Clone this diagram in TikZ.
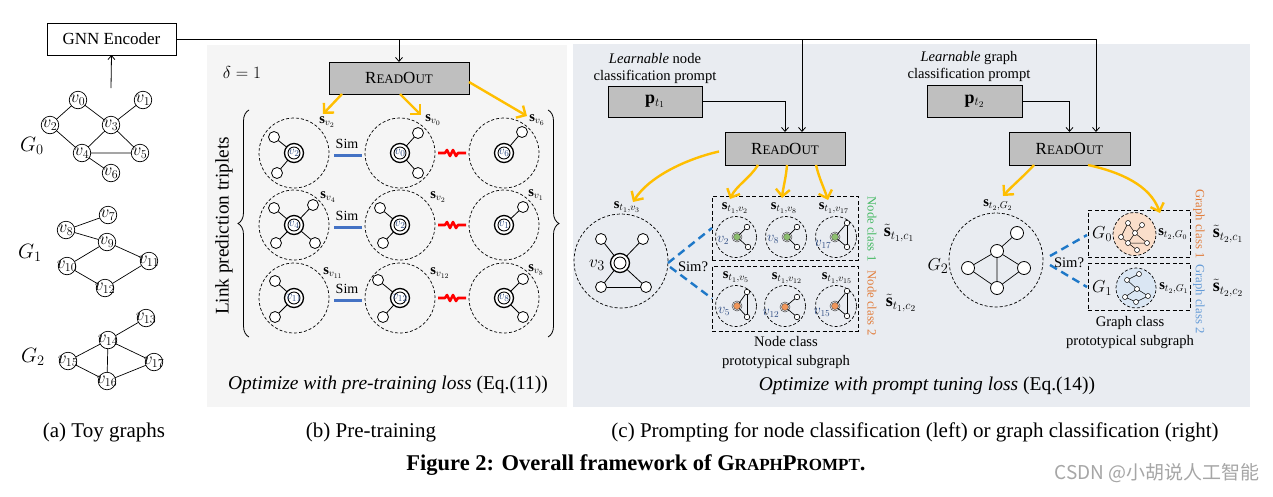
\documentclass[tikz,border=0pt]{standalone}
\usepackage{fontspec}
\setmainfont{Liberation Serif}
\newfontfamily\cjkf{Noto Sans CJK SC}
\usetikzlibrary{arrows.meta,calc,decorations.pathreplacing}
\definecolor{orng}{RGB}{255,190,0}
\definecolor{simblue}{RGB}{68,114,196}
\definecolor{dblue}{RGB}{30,120,200}
\definecolor{vlab}{RGB}{45,75,130}
\definecolor{panelb}{RGB}{245,245,245}
\definecolor{panelc}{RGB}{233,236,241}
\definecolor{boxgray}{RGB}{191,191,191}
\definecolor{gfill}{RGB}{140,190,110}
\definecolor{ofill}{RGB}{240,150,90}
\definecolor{gtxt}{RGB}{70,185,100}
\definecolor{otxt}{RGB}{225,125,60}
\definecolor{btxt}{RGB}{100,155,215}
\definecolor{peach}{RGB}{250,222,202}
\definecolor{lblue}{RGB}{218,230,243}
\newcommand\myfs[1]{\fontsize{#1}{#1}\selectfont}
\newcommand\myRO{R{\myfs{13}EAD}O{\myfs{13}UT}}
\begin{document}
\begin{tikzpicture}[x=1pt,y=-1pt,
 every node/.style={inner sep=0pt,outer sep=0pt},
 tn/.style={circle,draw,line width=0.7pt,minimum size=17.5pt,fill=white},
 tvl/.style={font=\myfs{17}},
 edge/.style={line width=0.7pt},
 rbox/.style={draw,fill=boxgray,line width=0.9pt,font=\myfs{17}},
 bigdash/.style={circle,draw,line width=0.7pt,dash pattern=on 3pt off 2pt,minimum size=70pt},
 ctr/.style={circle,draw,line width=1.3pt,minimum size=19pt,fill=white},
 sat/.style={circle,draw,line width=0.8pt,minimum size=11pt,fill=white},
 slbl/.style={font=\myfs{14.5}},
 vl/.style={font=\myfs{13},text=vlab},
 vl2/.style={font=\myfs{13.5},text=vlab},
 oarr/.style={draw=orng,line width=2.4pt,-{Straight Barb[length=7pt,width=14pt]}},
 karr/.style={line width=0.8pt,-{Straight Barb[length=4pt,width=7pt]}},
 simln/.style={draw=simblue,line width=3pt},
 redz/.style={draw=red,line width=2.6pt},
 simd/.style={draw=dblue,line width=2.4pt,dash pattern=on 8pt off 5pt},
 smdash/.style={circle,draw,line width=0.7pt,dash pattern=on 3pt off 2pt,minimum size=41pt},
 cn/.style={circle,draw=black!70,line width=0.4pt,minimum size=7pt},
 ss/.style={circle,draw,line width=0.6pt,minimum size=5.5pt,fill=white},
 edge3/.style={line width=0.7pt},
 dbox/.style={draw,line width=0.8pt,dash pattern=on 4pt off 2.5pt},
 gn/.style={circle,draw,line width=0.8pt,minimum size=13pt,fill=white},
 mn/.style={circle,draw,line width=0.5pt,minimum size=5pt,fill=white},
 medge/.style={line width=0.5pt},
 captxt/.style={font=\myfs{21}},
 opttxt/.style={font=\myfs{19.5}},
 txt/.style={font=\myfs{14.6}},
 rtxt/.style={font=\myfs{12.7}}
]
\useasboundingbox (0,0) rectangle (1273,496);
\fill[white] (0,0) rectangle (1273,496);
% panels
\fill[panelb] (207,45) rectangle (567,407);
\fill[panelc] (573,44) rectangle (1250,407);

% ===== (a) toy graphs
\node[draw,line width=0.8pt,minimum width=129pt,minimum height=32pt,font=\myfs{17},fill=white] (gnn) at (111.5,39) {GNN Encoder};
\coordinate (g0top) at (111,88);
\draw[karr] (g0top) -- (gnn.south);
\foreach \n/\x/\y/\l in {v0/78/100/v_0, v1/143/100/v_1, v2/50/125/v_2, v3/111/125/v_3, v4/82/153/v_4, v5/140/153/v_5, v6/111/173/v_6,
  v7/108/215/v_7, v8/66/230/v_8, v9/107/242/v_9, v10/67/266/v_{10}, v11/149/261/v_{11}, v12/105/288/v_{12},
  v13/146/318/v_{13}, v14/108/340/v_{14}, v15/68/361/v_{15}, v16/107/381/v_{16}, v17/154/362/v_{17}}{
  \node[tn] (\n) at (\x,\y) {};
  \node[tvl] (l\n) at (\x,\y) {$\l$};
}
\draw[edge] (v0)--(v2) (v0)--(v3) (v3)--(v1) (v3)--(v4) (v3)--(v5) (v2)--(v4) (v4)--(v5) (v4)--(v6);
\draw[edge] (v8)--(v7) (v8)--(v9) (v9)--(v10) (v9)--(v11) (v10)--(v12) (v11)--(v12);
\draw[edge] (v14)--(v13) (v14)--(v15) (v14)--(v16) (v14)--(v17) (v15)--(v16) (v16)--(v17);
\node[font=\myfs{20}] (G0) at (32,146) {$G_0$};
\node[font=\myfs{20}] (G1) at (30,253) {$G_1$};
\node[font=\myfs{20}] (G2) at (33,357) {$G_2$};

% ===== connections from encoder
\coordinate (j1) at (399,39);
\coordinate (j2) at (802,39);
\coordinate (j3) at (1096,39);
\draw[line width=0.8pt] (gnn.east) -- (j3);

% ===== (b) pre-training
\node[font=\myfs{19}] (delta) at (242,72) {$\delta=1$};
\node[rbox,minimum width=140pt,minimum height=32pt] (ro1) at (399,78) {\myRO};
\draw[karr] (j1) -- (ro1.north);
\node[font=\myfs{19.3},rotate=90] (lpt) at (224,226) {Link prediction triplets};
\draw[line width=0.8pt,decorate,decoration={brace,amplitude=11pt}] (249,337) -- (249,110);
\draw[line width=0.8pt,decorate,decoration={brace,amplitude=11pt}] (548,110) -- (548,337);

\foreach \n/\x/\y in {a/294/153, b/400/153, c/504/153, d/294/225, e/400/225, f/504/225, g/294/298, h/400/298, i/504/298}{
  \node[bigdash] (C\n) at (\x,\y) {};
  \node[ctr] (T\n) at (\x,\y) {};
  \draw[line width=0.9pt] (T\n) circle[radius=6pt];
}
\foreach \n/\l in {a/v_2, b/v_0, c/v_6, d/v_4, e/v_2, f/v_1, g/v_{11}, h/v_{12}, i/v_8}{
  \node[vl] (V\n) at (T\n) {$\l$};
}
\foreach \n/\dx/\dy [count=\k] in {a/-20/-16, a/-17/20, b/18/-20, b/18/20, c/18/-21, d/-20/-17, d/19/-20, d/-18/18, d/21/18, e/-20/-17, e/-17/18, f/19/-18, g/-19/-17, g/-19/19, h/-22/-18, h/-17/19, i/19/-19, i/19/19}{
  \node[sat] (S\k) at ($(T\n)+(\dx,\dy)$) {};
  \draw[line width=0.8pt] (T\n) -- (S\k);
}
\foreach \n/\x/\y/\l in {a/327/122/v_2, b/433/120/v_0, c/537/120/v_6, d/328/197/v_4, e/438/197/v_2, f/536/195/v_1, g/333/273/v_{11}, h/440/273/v_{12}, i/536/270/v_8}{
  \node[slbl] (L\n) at (\x,\y) {$\mathbf{s}_{\l}$};
}
\foreach \r/\a/\b/\c in {1/a/b/c, 2/d/e/f, 3/g/h/i}{
  \node[font=\myfs{14}] (sim\r) at ($(C\a.east)!0.5!(C\b.west)+(0,-9)$) {Sim};
  \draw[simln] ($(C\a.east)+(5,2)$) -- ($(C\b.west)+(-3,2)$);
  \draw[redz,line join=round] ($(C\b.east)+(3,0)$) -- ++(7,0) -- ++(2,-3) -- ++(3,6) -- ++(3,-6) -- ++(3,6) -- ++(2,-3) -- ($(C\c.west)+(-3,0)$);
}
\coordinate (e1) at (323,114);
\coordinate (e2) at (421,115);
\coordinate (e3) at (527,116);
\draw[oarr] ([xshift=-57pt]ro1.south) -- (e1);
\draw[oarr] ([xshift=1pt]ro1.south) -- (e2);
\draw[oarr] ([yshift=-4pt]ro1.east) -- (e3);
\node[opttxt] (optb) at (388,385) {\textit{Optimize with pre-training loss} (Eq.(11))};

% ===== (c) node classification
\node[align=center,font=\fontsize{14.6}{17}\selectfont] (lrn1) at (655,68.5) {\textit{Learnable} node\\classification prompt};
\node[rbox,minimum width=94pt,minimum height=31pt,font=\myfs{18}] (p1) at (655,101.5) {$\mathbf{p}_{t_1}$};
\node[rbox,minimum width=120pt,minimum height=33pt] (ro2) at (785,148.5) {\myRO};
\draw[karr] (p1.east) -| (ro2.north);
\draw[karr] (j2) -- (j2 |- ro2.north);

\node[font=\myfs{14.5}] (s3) at (627,207) {$\mathbf{s}_{t_1,v_3}$};
\node[circle,draw,line width=0.7pt,dash pattern=on 3pt off 2pt,minimum size=94pt] (cv3) at (621,261) {};
\node[ctr] (tv3) at (620,263) {};
\draw[line width=0.9pt] (tv3) circle[radius=6pt];
\foreach \n/\x/\y in {1/601/239, 2/643/239, 3/601/287, 4/646/287}{
  \node[sat] (u\n) at (\x,\y) {};
  \draw[line width=0.8pt] (tv3) -- (u\n);
}
\draw[line width=0.8pt] (u3) -- (u4);
\node[font=\myfs{19}] (lv3) at (597,265) {$v_3$};

\node[dbox,minimum width=146pt,minimum height=64pt] (nc1) at (785,228) {};
\node[dbox,minimum width=146pt,minimum height=65pt] (nc2) at (785,298.5) {};
\coordinate (st1) at (668,263);
\coordinate (st2) at (670,267);
\draw[simd] (st1) -- (nc1.west);
\draw[simd] (st2) -- (nc2.west);
\node[txt] (simq1) at (693,267) {Sim?};

\foreach \n/\x/\y in {k1/736/237, k2/786/237, k3/836/237, k4/736/306, k5/785/306, k6/836/306}{
  \node[smdash] (D\n) at (\x,\y) {};
}
\foreach \n/\x/\y/\c in {k1/737/237/gfill, k2/787/237/gfill, k3/835/237/gfill, k4/737/306/ofill, k5/785/307/ofill, k6/835/306/ofill}{
  \node[cn,fill=\c] (N\n) at (\x,\y) {};
  \draw[line width=0.5pt,draw=black!70] (N\n) circle[radius=5pt];
}
\foreach \n/\dx/\dy [count=\k] in {k1/10/-10, k1/11/10, k2/10/-10, k2/10/10, k3/12/-14, k3/12/10, k4/10/-14, k4/10/11, k5/12/-10, k5/12/10, k6/12/-15, k6/12/10}{
  \node[ss] (Q\k) at ($(N\n)+(\dx,\dy)$) {};
  \draw[edge3] (N\n) -- (Q\k);
}
\draw[edge3] (Q5) -- (Q6) (Q7) -- (Q8) (Q11) -- (Q12);
\foreach \n/\dx/\dy/\l in {k1/-14/3/v_2, k2/-14/2/v_8, k3/-12/7/v_{17}, k4/-13/5/v_5, k5/-14/6/v_{12}, k6/-13/6/v_{15}}{
  \node[vl2] (W\n) at ($(N\n)+(\dx,\dy)$) {$\l$};
}
\foreach \n/\x/\y/\l in {k1/735/208/v_2, k2/784/208/v_8, k3/834/208/v_{17}, k4/736/277/v_5, k5/787/278/v_{12}, k6/837/278/v_{15}}{
  \node[slbl] (P\n) at (\x,\y) {$\mathbf{s}_{t_1,\l}$};
}
\node[rtxt,rotate=-90,text=gtxt] (ncl1) at (872,229) {Node class 1};
\node[rtxt,rotate=-90,text=otxt] (ncl2) at (872,303) {Node class 2};
\node[font=\myfs{18}] (ts1) at (899,233) {$\tilde{\mathbf{s}}_{t_1,c_1}$};
\node[font=\myfs{18}] (ts2) at (901,303) {$\tilde{\mathbf{s}}_{t_1,c_2}$};
\node[align=center,font=\fontsize{14.6}{19}\selectfont] (ncp) at (786,352.5) {Node class\\prototypical subgraph};

\coordinate (f1) at (633,202);
\coordinate (f2) at (730,199);
\coordinate (f3) at (782,198);
\coordinate (f4) at (828,200);
\draw[oarr] ([xshift=-6pt,yshift=-3pt]ro2.west) .. controls (690,158) and (650,175) .. (f1);
\draw[oarr] ([xshift=-27pt]ro2.south) .. controls (750,178) and (736,186) .. (f2);
\draw[oarr] ([xshift=2pt]ro2.south) .. controls (786,178) and (783,188) .. (f3);
\draw[oarr] ([xshift=31pt]ro2.south) .. controls (819,178) and (824,188) .. (f4);

% ===== (c) graph classification
\node[align=center,font=\fontsize{14.6}{17}\selectfont] (lrn2) at (969,66.5) {\textit{Learnable} graph\\classification prompt};
\node[rbox,minimum width=95pt,minimum height=32pt,font=\myfs{18}] (p2) at (974.5,101) {$\mathbf{p}_{t_2}$};
\node[rbox,minimum width=121pt,minimum height=33pt] (ro3) at (1069.5,148.5) {\myRO};
\draw[karr] (p2.east) -| (ro3.north);
\draw[karr] (j3) -- (j3 |- ro3.north);

\node[font=\myfs{14.5}] (sg2) at (998,205) {$\mathbf{s}_{t_2,G_2}$};
\node[circle,draw,line width=0.7pt,dash pattern=on 3pt off 2pt,minimum size=94pt] (cg2) at (996,260) {};
\node[font=\myfs{19}] (lg2) at (938,266) {$G_2$};
\node[gn] (gA) at (1017,233) {};
\node[gn] (gB) at (997,251) {};
\node[gn] (gC) at (968,268) {};
\node[gn] (gD) at (1024,268) {};
\node[gn] (gE) at (997,288) {};
\draw[edge] (gA)--(gB) (gB)--(gC) (gB)--(gD) (gB)--(gE) (gC)--(gE) (gD)--(gE);

\node[dbox,minimum width=102pt,minimum height=47pt] (gc1) at (1139,233.5) {};
\node[dbox,minimum width=102pt,minimum height=47pt] (gc2) at (1139,286.5) {};
\coordinate (sg1) at (1050,256);
\coordinate (sg2c) at (1050,265);
\coordinate (gt1) at (1087,235);
\coordinate (gt2) at (1087,287);
\draw[simd] (sg1) -- (gt1);
\draw[simd] (sg2c) -- (gt2);
\node[txt] (simq2) at (1069,263) {Sim?};

\node[circle,draw,line width=0.7pt,dash pattern=on 3pt off 2pt,fill=peach,minimum size=43pt] (cG0) at (1134.5,234) {};
\node[circle,draw,line width=0.7pt,dash pattern=on 3pt off 2pt,fill=lblue,minimum size=40pt] (cG1) at (1136,288) {};
\foreach \n/\x/\y in {m0/1128/223, m1/1142/225, m3/1135/233, m2/1121/237, m4/1128/243, m5/1147/243, m6/1137/250,
  n7/1139/274, n8/1127/280, n9/1137/289, n10/1125/297, n11/1148/296, n12/1136/302}{
  \node[mn] (\n) at (\x,\y) {};
}
\draw[medge] (m0)--(m2) (m0)--(m3) (m3)--(m1) (m3)--(m4) (m3)--(m5) (m2)--(m4) (m4)--(m5) (m4)--(m6);
\draw[medge] (n8)--(n7) (n8)--(n9) (n9)--(n10) (n9)--(n11) (n10)--(n12) (n11)--(n12);
\node[font=\myfs{18}] (lG0) at (1102,234) {$G_0$};
\node[font=\myfs{18}] (lG1) at (1102,288) {$G_1$};
\node[slbl] (sG0) at (1173,234) {$\mathbf{s}_{t_2,G_0}$};
\node[slbl] (sG1) at (1174,288) {$\mathbf{s}_{t_2,G_1}$};
\node[rtxt,rotate=-90,text=otxt] (gcl1) at (1199,224) {Graph class 1};
\node[rtxt,rotate=-90,text=btxt] (gcl2) at (1199,299) {Graph class 2};
\node[font=\myfs{18}] (tg1) at (1228,234) {$\tilde{\mathbf{s}}_{t_2,c_1}$};
\node[font=\myfs{18}] (tg2) at (1228,288) {$\tilde{\mathbf{s}}_{t_2,c_2}$};
\node[align=center,font=\fontsize{14.6}{19}\selectfont] (gcp) at (1130,332.5) {Graph class\\prototypical subgraph};

\coordinate (h1) at (1003,196);
\coordinate (h2) at (1160,213);
\draw[oarr] ([xshift=-35.5pt]ro3.south) .. controls (1025,175) and (1012,186) .. (h1);
\draw[oarr] ([xshift=18.5pt]ro3.south) .. controls (1120,172) and (1150,185) .. (h2);

\node[opttxt] (optc) at (927,386) {\textit{Optimize with prompt tuning loss} (Eq.(14))};

% ===== captions
\node[captxt] (capa) at (104,432) {(a) Toy graphs};
\node[captxt] (capb) at (371,432) {(b) Pre-training};
\node[captxt] (capc) at (915,432) {(c) Prompting for node classification (left) or graph classification (right)};
\node[font=\bfseries\myfs{22.5}] (fig) at (636,465) {Figure 2: Overall framework of G{\myfs{17}RAPH}P{\myfs{17}ROMPT}.};
\node[font=\cjkf\myfs{19},text=black!35] (wm) at (1157,473) {CSDN @小胡说人工智能};
\end{tikzpicture}
\end{document}
